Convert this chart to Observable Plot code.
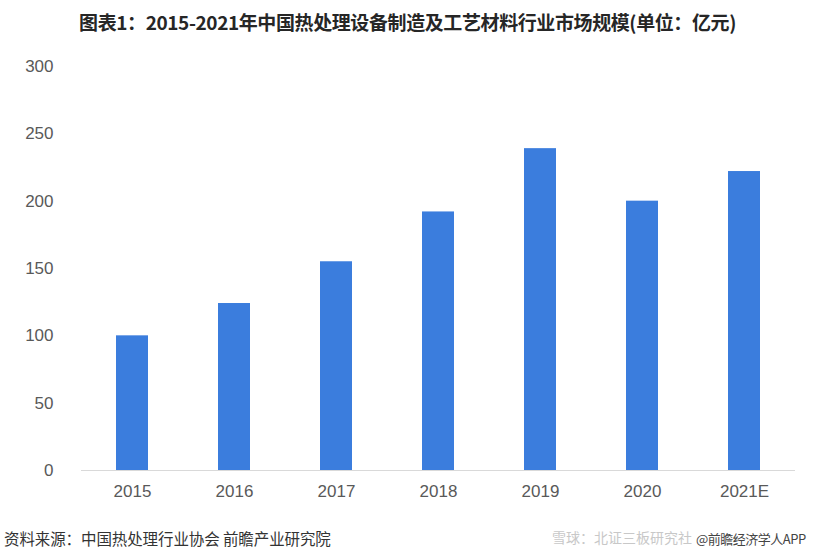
<!DOCTYPE html>
<html>
<head>
<meta charset="utf-8">
<script src="https://cdn.jsdelivr.net/npm/d3@7"></script>
<script src="https://cdn.jsdelivr.net/npm/@observablehq/plot@0.6"></script>
<style>
  html, body { margin: 0; padding: 0; background: #fff; width: 840px; height: 560px; overflow: hidden; }
  #wrap { position: relative; width: 840px; height: 560px; }
  #title { position: absolute; left: 0; top: 8px; width: 815px; text-align: center; font-family: "Noto Sans CJK SC", sans-serif; font-weight: 700; font-size: 19px; color: #262626; letter-spacing: -0.4px; }
  #chart { position: absolute; left: 0; top: 45px; }
  #source { position: absolute; left: 4px; top: 527px; font-family: "Noto Sans CJK SC", sans-serif; font-size: 15.5px; color: #333; letter-spacing: -0.1px; }
  #wm { position: absolute; left: 552px; top: 527px; font-family: "Noto Sans CJK SC", sans-serif; font-size: 14px; color: #c8c8c8; }
  #app { position: absolute; left: 696px; top: 529px; font-family: "Noto Sans CJK SC", sans-serif; font-size: 13px; color: #444; letter-spacing: -0.5px; }
</style>
</head>
<body>
<div id="wrap">
  <div id="title">图表1：2015-2021年中国热处理设备制造及工艺材料行业市场规模(单位：亿元)</div>
  <div id="chart"></div>
  <div id="source">资料来源：中国热处理行业协会 前瞻产业研究院</div>
  <div id="wm">雪球：北证三板研究社</div>
  <div id="app">@前瞻经济学人APP</div>
</div>
<script>
const years = ["2015", "2016", "2017", "2018", "2019", "2020", "2021E"];
const values = [100, 124, 155, 192, 239, 200, 222];
const yTicks = [0, 50, 100, 150, 200, 250, 300];

const data = years.map((y, i) => ({year: y, value: values[i]}));

const plot = Plot.plot({
  width: 840,
  height: 470,
  marginTop: 21,
  marginBottom: 45,
  marginLeft: 81,
  marginRight: 45,
  style: { fontFamily: "'Liberation Sans', Arial, sans-serif", fontSize: "17px", color: "#595959", background: "#fff" },
  x: { domain: years, paddingInner: 0.686, paddingOuter: 0.343, label: null, tickSize: 0, tickPadding: 14 },
  y: { domain: [0, 300], ticks: yTicks, label: null, tickSize: 0, tickPadding: 28 },
  marks: [
    Plot.barY(data, { x: "year", y: "value", fill: "#3b7ddd" }),
    Plot.ruleY([0], { stroke: "#d9d9d9", strokeWidth: 1.2 })
  ]
});
document.getElementById("chart").appendChild(plot);
</script>
</body>
</html>
